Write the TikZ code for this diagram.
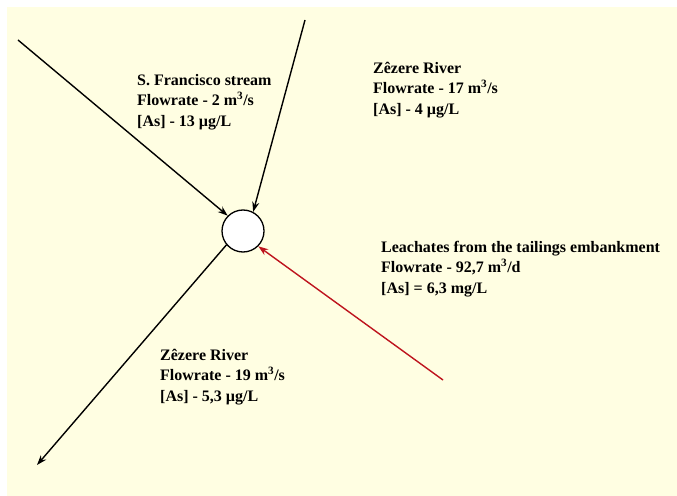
\documentclass[tikz,border=0pt]{standalone}
\usepackage{fontspec}
\setmainfont{Liberation Serif}
\usetikzlibrary{arrows.meta,positioning}
\definecolor{bgyellow}{RGB}{255,254,226}
\definecolor{leachred}{RGB}{190,20,30}
\tikzset{
  mixpt/.style ={draw, circle, fill=white, line width=1.3bp, minimum size=42bp, inner sep=0pt},
  river/.style ={-{Stealth[length=10bp, width=7bp]}, line width=1.4bp},
  leach/.style ={river, draw=leachred, fill=leachred},
  info/.style  ={anchor=north west, align=left, inner sep=0pt, font=\bfseries\fontsize{16bp}{20.5bp}\selectfont},
}
\begin{document}
\begin{tikzpicture}[x=1bp, y=-1bp]
\useasboundingbox (0,0) rectangle (677,496);
\fill[bgyellow] (7,7) rectangle (677,496);

% ---- mixing point and stream ends ---------------------------------
\node[mixpt] (mix) at (243,231) {};
\coordinate (sfr) at (18,40);
\coordinate (zin) at (305,20);
\coordinate (zout) at (37,465);
\coordinate (tail) at (443,380);

\draw[river] (sfr) -- (mix.135);
\draw[river] (zin) -- (mix.62);
\draw[river] (mix.220) -- (zout);
\draw[leach] (tail) -- (mix.-45);

% ---- labels --------------------------------------------------------
\node[info] (sfrlbl) at (137,74) {S. Francisco stream\\Flowrate - 2 m\textsuperscript{3}/s\\{[As]} - 13 µg/L};
\node[info] (zinlbl) at (373,62) {Zêzere River\\Flowrate - 17 m\textsuperscript{3}/s\\{[As]} - 4 µg/L};
\node[info] (tailbl) at (381,241) {Leachates from the tailings embankment\\Flowrate - 92,7 m\textsuperscript{3}/d\\{[As]} = 6,3 mg/L};
\node[info] (zoutlbl) at (160,349) {Zêzere River\\Flowrate - 19 m\textsuperscript{3}/s\\{[As]} - 5,3 µg/L};

\end{tikzpicture}
\end{document}
